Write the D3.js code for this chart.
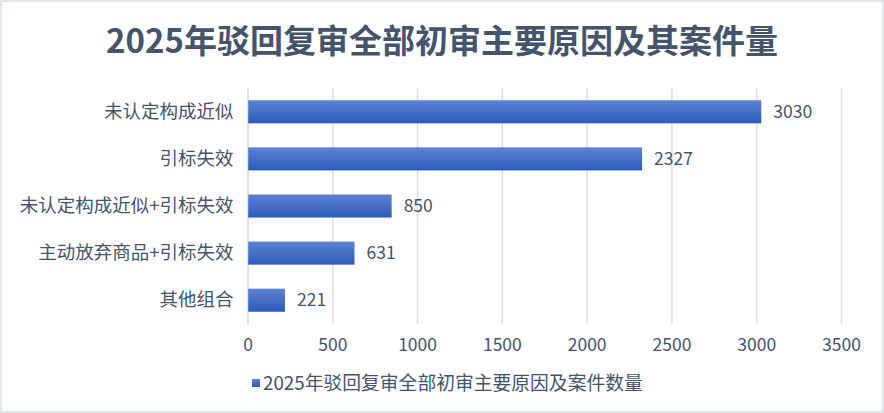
<!DOCTYPE html>
<html>
<head>
<meta charset="utf-8">
<script src="https://cdn.jsdelivr.net/npm/d3@7"></script>
<style>
    html, body { margin: 0; padding: 0; background: #fff; }
    #chart { width: 884px; height: 413px; }
    text { font-family: "Noto Sans CJK SC", "Noto Sans", sans-serif; }
</style>
</head>
<body>
<div id="chart"></div>
<script>
// chart data
const categories = ["未认定构成近似", "引标失效", "未认定构成近似+引标失效", "主动放弃商品+引标失效", "其他组合"];
const counts = [3030, 2327, 850, 631, 221];
const xTicks = [0, 500, 1000, 1500, 2000, 2500, 3000, 3500];
const titleText = "2025年驳回复审全部初审主要原因及其案件量";
const seriesName = "2025年驳回复审全部初审主要原因及案件数量";

const width = 884, height = 413;
const margin = {top: 88, right: 43, bottom: 89, left: 247.5};
const textColour = "#44546A";
const gridColour = "#d9dee5";

const data = categories.map((c, i) => ({label: c, value: counts[i]}));

const svg = d3.select("#chart")
    .append("svg")
        .attr("width", width)
        .attr("height", height);

// outer border
svg.append("rect")
    .attr("x", 1).attr("y", 1)
    .attr("width", width - 2).attr("height", height - 2)
    .attr("fill", "#fff")
    .attr("stroke", "#dfe4ea")
    .attr("stroke-width", 2);

const defs = svg.append("defs");
const grad = defs.append("linearGradient")
    .attr("id", "barGrad")
    .attr("x1", 0).attr("y1", 0).attr("x2", 0).attr("y2", 1);
grad.append("stop").attr("offset", "0%").attr("stop-color", "#5c83d4");
grad.append("stop").attr("offset", "100%").attr("stop-color", "#2c5bb9");

svg.append("text")
    .attr("x", width / 2)
    .attr("y", 39)
    .attr("text-anchor", "middle")
    .attr("dominant-baseline", "central")
    .attr("font-size", 33)
    .attr("font-weight", "bold")
    .attr("fill", textColour)
    .text(titleText);

const innerW = width - margin.left - margin.right;
const innerH = height - margin.top - margin.bottom;

const g = svg.append("g")
    .attr("transform", `translate(${margin.left},${margin.top})`);

const xScale = d3.scaleLinear().domain([0, 3500]).range([0, innerW]);
const yScale = d3.scaleBand().domain(categories).range([0, innerH]).paddingInner(0.51).paddingOuter(0.26);

// vertical grid lines + tick labels
const xAxis = g.append("g")
    .attr("class", "axis axis--x")
    .call(d3.axisBottom(xScale)
        .tickValues(xTicks)
        .tickSize(innerH)
        .tickFormat(d3.format("d")));
xAxis.select(".domain").remove();
xAxis.selectAll(".tick line")
    .attr("stroke", gridColour)
    .attr("stroke-width", 1.5);
xAxis.selectAll(".tick text")
    .attr("y", innerH + 21)
    .attr("dy", "0.35em")
    .attr("font-size", 17.5)
    .attr("fill", textColour);

// category axis
const yAxis = g.append("g")
    .attr("class", "axis axis--y")
    .call(d3.axisLeft(yScale).tickSize(0).tickPadding(14));
yAxis.select(".domain")
    .attr("stroke", gridColour)
    .attr("stroke-width", 1.5);
yAxis.selectAll(".tick text")
    .attr("font-size", 18.5)
    .attr("fill", textColour);

g.selectAll(".bar")
    .data(data)
    .join("rect")
        .attr("class", "bar")
        .attr("x", xScale(0) + 0.75)
        .attr("y", d => yScale(d.label))
        .attr("width", d => xScale(d.value) - 0.75)
        .attr("height", yScale.bandwidth())
        .attr("fill", "url(#barGrad)");

g.selectAll(".label")
    .data(data)
    .join("text")
        .attr("class", "label")
        .attr("x", d => xScale(d.value) + 12)
        .attr("y", d => yScale(d.label) + yScale.bandwidth() / 2)
        .attr("dy", "0.35em")
        .attr("font-size", 17.5)
        .attr("fill", textColour)
        .text(d => d.value);

// legend
const legend = svg.append("g")
    .attr("transform", "translate(252,383)");
legend.append("rect")
    .attr("x", 0).attr("y", -4)
    .attr("width", 8).attr("height", 8)
    .attr("fill", "url(#barGrad)");
legend.append("text")
    .attr("x", 11)
    .attr("y", 0)
    .attr("dy", "0.35em")
    .attr("font-size", 18.8)
    .attr("fill", textColour)
    .text(seriesName);
</script>
</body>
</html>
